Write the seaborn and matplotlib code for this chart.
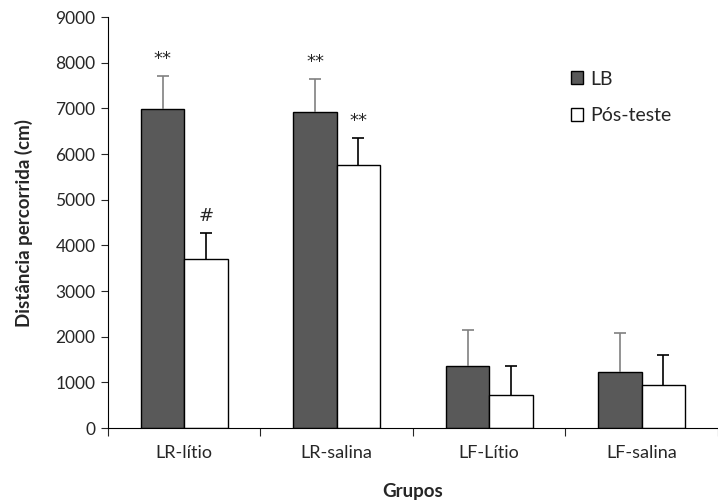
import pandas as pd
import matplotlib
matplotlib.use("Agg")
import matplotlib.pyplot as plt
import seaborn as sns
from matplotlib.patches import Patch

grupos = ["LR-lítio", "LR-salina", "LF-Lítio", "LF-salina"]
lb = [6985, 6912, 1351, 1233]
lb_err = [729, 722, 795, 840]
pos = [3700, 5766, 729, 935]
pos_err = [577, 584, 622, 656]
marcas_lb = ["**", "**", "", ""]
marcas_pos = ["#", "**", "", ""]

df = pd.DataFrame({
    "Grupos": grupos * 2,
    "dist": lb + pos,
    "fase": ["LB"] * 4 + ["Pós-teste"] * 4,
})

sns.set_style("white")
plt.rcParams["font.family"] = ["Lato", "DejaVu Sans"]

fig = plt.figure(figsize=(7.18, 5.03), dpi=100)
ax = fig.add_axes([0.1504, 0.149, 0.8496, 0.817])

sns.barplot(data=df, x="Grupos", y="dist", hue="fase",
            palette={"LB": "#595959", "Pós-teste": "white"},
            edgecolor="black", linewidth=1, width=0.57, gap=0,
            errorbar=None, legend=False, ax=ax)

bars = ax.patches
cores = ["#808080"] * 4 + ["black"] * 4
erros = lb_err + pos_err
marcas = marcas_lb + marcas_pos
for b, e, c, m in zip(bars, erros, cores, marcas):
    cx = b.get_x() + b.get_width() / 2
    h = b.get_height()
    _, caps, _ = ax.errorbar(cx, h, yerr=[[0], [e]], fmt="none", ecolor=c,
                             elinewidth=1.2, capsize=4.5, capthick=1.2, zorder=3)
    caps[0].set_visible(False)
    if m:
        ax.text(cx, h + e + 180, m, ha="center", va="bottom",
                fontsize=13, family="DejaVu Sans")

ax.set_ylim(0, 9000)
ax.set_xlim(-0.5, 3.42)
ax.set_yticks(range(0, 9001, 1000))
ax.set_xticks([-0.5, 0.5, 1.5, 2.5, 3.5], minor=False)
ax.set_xticklabels([])
ax.set_xticks(range(4), minor=True)
ax.set_xticklabels(grupos, minor=True)
ax.tick_params(axis="x", which="major", length=6, width=0.8, direction="out", bottom=True)
ax.tick_params(axis="x", which="minor", length=0, labelsize=13, pad=12)
ax.tick_params(axis="y", length=5, width=0.8, direction="out", left=True, labelsize=12.5, pad=4)

for s in ["top", "right"]:
    ax.spines[s].set_visible(False)
for s in ["left", "bottom"]:
    ax.spines[s].set_color("black")
    ax.spines[s].set_linewidth(0.8)

ax.set_xlabel("Grupos", fontsize=13.5, fontweight="bold", labelpad=16)
ax.set_ylabel("Distância percorrida (cm)", fontsize=13.5, fontweight="bold", labelpad=16)

handles = [Patch(facecolor="#595959", edgecolor="black", label="LB"),
           Patch(facecolor="white", edgecolor="black", label="Pós-teste")]
ax.legend(handles=handles, loc="upper left", bbox_to_anchor=(0.73, 0.912),
          frameon=False, fontsize=14, handlelength=0.65, handleheight=0.65,
          handletextpad=0.35, labelspacing=1.0)

fig.savefig("out.png", dpi=100)
